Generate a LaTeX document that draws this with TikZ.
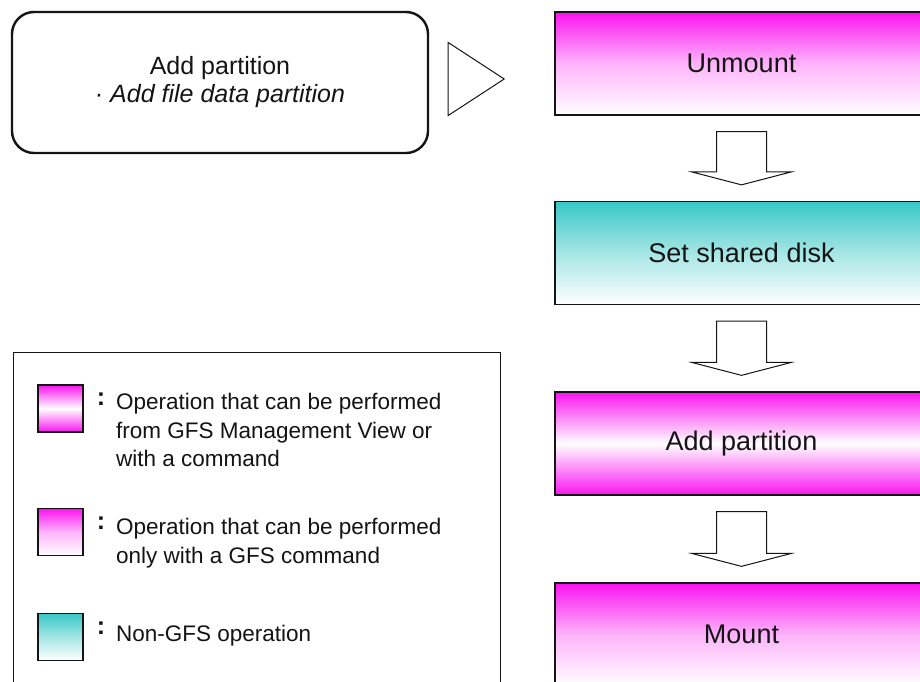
\documentclass[tikz,border=0pt]{standalone}
\usepackage{fontspec}
\setmainfont{Liberation Sans}
\usetikzlibrary{calc}
\definecolor{mag}{RGB}{250,20,240}
\definecolor{tealc}{RGB}{56,200,198}
\definecolor{ink}{RGB}{20,20,20}
\newcommand{\downblock}[2]{%
  \draw[blk] ($(#1.south)+(-25,16)$) -- ($(#1.south)+(25,16)$)
    -- ($(#2.north)+(25,-29)$) -- ($(#2.north)+(50,-29)$)
    -- ($(#2.north)+(0,-16)$) -- ($(#2.north)+(-50,-29)$)
    -- ($(#2.north)+(-25,-29)$) -- cycle;}
\begin{document}
\begin{tikzpicture}[x=1pt,y=-1pt,
  stepbox/.style={draw=ink,line width=1.3pt,minimum width=373pt,minimum height=103pt,inner sep=0pt,font=\fontsize{27}{32}\selectfont,text=ink},
  fadebox/.style={stepbox,top color=mag,bottom color=white,middle color=mag!32!white},
  bandbox/.style={stepbox,top color=mag,bottom color=mag,middle color=white},
  tealbox/.style={stepbox,top color=tealc,bottom color=white,middle color=tealc!45!white},
  swatch/.style={draw=ink,line width=1.2pt,minimum width=45pt,minimum height=47pt,inner sep=0pt},
  swfade/.style={swatch,top color=mag,bottom color=white,middle color=mag!32!white},
  swband/.style={swatch,top color=mag,bottom color=mag,middle color=white},
  swteal/.style={swatch,top color=tealc,bottom color=white,middle color=tealc!45!white},
  legtext/.style={anchor=north west,inner sep=0pt,align=left,font=\fontsize{22.5}{28.5}\selectfont,text=ink},
  colonmark/.style={inner sep=0pt,font=\fontsize{25}{25}\selectfont\bfseries,text=ink},
  blk/.style={draw=ink,fill=white,line width=1pt,line join=miter},
]
\useasboundingbox (0,0) rectangle (920,681);
\fill[white] (0,0) rectangle (920,681);
\clip (0,0) rectangle (920,681);

% top-left rounded box
\node[draw=ink,line width=2.4pt,rounded corners=22pt,minimum width=416pt,minimum height=141pt,
      align=center,font=\fontsize{25}{28}\selectfont,text=ink,inner sep=0pt] (ap0) at (220,82.5)
  {Add partition\\\textit{· Add file data partition}};

% step boxes
\node[fadebox] (u) at (741.5,63.5) {Unmount};
\node[tealbox] (s) at (741.5,253) {Set shared disk};
\node[bandbox] (a) at (741.5,443.5) {Add partition};
\node[fadebox] (m) at (741.5,634.5) {Mount};

% triangle arrow
\draw[blk] ($(ap0.east)+(19,-40)$) -- ($(ap0.east)+(75,-3.5)$) -- ($(ap0.east)+(19,33)$) -- cycle;

% block arrows
\downblock{u}{s}
\downblock{s}{a}
\downblock{a}{m}

% legend
\node[draw=ink,line width=1.3pt,minimum width=487pt,minimum height=345pt,anchor=north west,inner sep=0pt] (leg) at (13,352) {};
\node[swband] (sw1) at (60.5,408.5) {};
\node[swfade] (sw2) at (60.5,532) {};
\node[swteal] (sw3) at (60.5,637) {};
\node[colonmark] (c1) at (101,399.5) {:};
\node[colonmark] (c2) at (101,523.5) {:};
\node[colonmark] (c3) at (101,628.5) {:};
\node[legtext] (t1) at (116,393) {Operation that can be performed\\from GFS Management View or\\with a command};
\node[legtext] (t2) at (116,518) {Operation that can be performed\\only with a GFS command};
\node[legtext] (t3) at (116,625) {Non-GFS operation};
\end{tikzpicture}
\end{document}
